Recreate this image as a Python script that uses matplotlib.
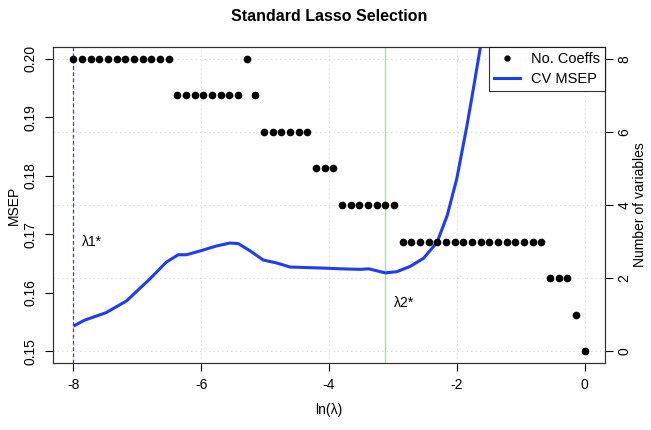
import numpy as np
import matplotlib
matplotlib.use("Agg")
import matplotlib.pyplot as plt
from matplotlib.lines import Line2D

plt.rcParams['font.family'] = ['Liberation Sans', 'DejaVu Sans']

# ln(lambda) grid used for the coefficient counts
ln_lambda = [-8.000, -7.864, -7.729, -7.593, -7.458, -7.322, -7.186, -7.051, -6.915, -6.780,
             -6.644, -6.508, -6.373, -6.237, -6.102, -5.966, -5.831, -5.695, -5.559, -5.424,
             -5.288, -5.153, -5.017, -4.881, -4.746, -4.610, -4.475, -4.339, -4.203, -4.068,
             -3.932, -3.797, -3.661, -3.525, -3.390, -3.254, -3.119, -2.983, -2.847, -2.712,
             -2.576, -2.441, -2.305, -2.169, -2.034, -1.898, -1.763, -1.627, -1.492, -1.356,
             -1.220, -1.085, -0.949, -0.814, -0.678, -0.542, -0.407, -0.271, -0.136, 0.000]
n_coeffs = [8, 8, 8, 8, 8, 8, 8, 8, 8, 8, 8, 8,
            7, 7, 7, 7, 7, 7, 7, 7,
            8, 7,
            6, 6, 6, 6, 6, 6,
            5, 5, 5,
            4, 4, 4, 4, 4, 4, 4,
            3, 3, 3, 3, 3, 3, 3, 3, 3, 3, 3, 3, 3, 3, 3, 3, 3,
            2, 2, 2,
            1, 0]

# CV MSEP curve
cv_lnlam = [-8.00, -7.83, -7.49, -7.17, -6.81, -6.55, -6.36, -6.23, -5.97, -5.76,
            -5.55, -5.42, -5.24, -5.03, -4.82, -4.61, -4.04, -3.83, -3.51, -3.38,
            -3.12, -2.94, -2.73, -2.52, -2.31, -2.15, -2.00, -1.84, -1.74, -1.63, -1.55]
cv_msep = [0.1543, 0.1553, 0.1566, 0.1586, 0.1623, 0.1652, 0.1665, 0.1665, 0.1673, 0.1680,
           0.1685, 0.1684, 0.1672, 0.1656, 0.1651, 0.1644, 0.1642, 0.1641, 0.1640, 0.1641,
           0.1634, 0.1636, 0.1645, 0.1659, 0.1686, 0.1732, 0.1795, 0.1886, 0.1949, 0.2020, 0.2080]

lambda1 = -8.0
lambda2 = -3.119

BLUE = '#1f3df2'

fig = plt.figure(figsize=(6.51, 4.30), dpi=100)
L, R, T, B = 53, 605, 47, 363
ax = fig.add_axes([L / 651, 1 - B / 430, (R - L) / 651, (B - T) / 430])

y_lo, y_hi = 0.148, 0.202
ax.set_xlim(-8.32, 0.32)
ax.set_ylim(y_lo, y_hi)

# grid: vertical at x ticks, horizontal at right-axis ticks
for gx in [-8, -6, -4, -2, 0]:
    ax.axvline(gx, color='#d3d3d3', lw=0.8, ls=(0, (1, 3)), zorder=0)
for gy in [0.15, 0.1625, 0.175, 0.1875, 0.20]:
    ax.axhline(gy, color='#d3d3d3', lw=0.8, ls=(0, (1, 3)), zorder=0)

ax.axvline(lambda1, color='#2a3cff', lw=0.9, ls=(0, (3, 2)), zorder=2)
ax.axvline(lambda2, color='#90ee90', lw=1.0, zorder=1)

ax.plot(cv_lnlam, cv_msep, color=BLUE, lw=2.2, zorder=3, solid_capstyle='butt')

ax.text(-7.86, 0.1687, 'λ1*', fontsize=10, ha='left', va='center')
ax.text(-2.99, 0.1582, 'λ2*', fontsize=10, ha='left', va='center')

ax.set_xticks([-8, -6, -4, -2, 0])
ax.set_xticklabels(['-8', '-6', '-4', '-2', '0'])
ax.set_yticks([0.15, 0.16, 0.17, 0.18, 0.19, 0.20])
ax.set_yticklabels(['0.15', '0.16', '0.17', '0.18', '0.19', '0.20'], rotation=90, va='center')
ax.tick_params(axis='both', labelsize=10, length=6, width=0.8, direction='out', pad=5)
ax.set_xlabel('ln(λ)', fontsize=10, labelpad=8)
ax.set_ylabel('MSEP', fontsize=10, labelpad=2)
ax.set_title('Standard Lasso Selection', fontsize=11.5, fontweight='bold', pad=19)

ax2 = ax.twinx()
ax2.set_ylim((y_lo - 0.15) / 0.00625, (y_hi - 0.15) / 0.00625)
ax2.plot(ln_lambda, n_coeffs, 'o', color='black', markersize=4.5, zorder=4)
ax2.set_yticks([0, 2, 4, 6, 8])
ax2.set_yticklabels(['0', '2', '4', '6', '8'], rotation=90, va='center')
ax2.tick_params(axis='y', labelsize=10, length=6, width=0.8, direction='out', pad=3)
ax2.set_ylabel('Number of variables', fontsize=10, rotation=90, labelpad=1)

for a in (ax, ax2):
    for s in a.spines.values():
        s.set_linewidth(0.8)
        s.set_color('#333333')

handles = [Line2D([], [], marker='o', ls='none', color='black', markersize=3.5),
           Line2D([], [], color=BLUE, lw=2.2)]
leg = ax2.legend(handles, ['No. Coeffs', 'CV MSEP'], loc='upper right', fontsize=10.5,
                 frameon=True, fancybox=False, borderaxespad=0, handlelength=1.8,
                 borderpad=0.35, labelspacing=0.4, handletextpad=0.75)
leg.get_frame().set_edgecolor('black')
leg.get_frame().set_linewidth(0.8)

fig.savefig('out.png', dpi=100)
